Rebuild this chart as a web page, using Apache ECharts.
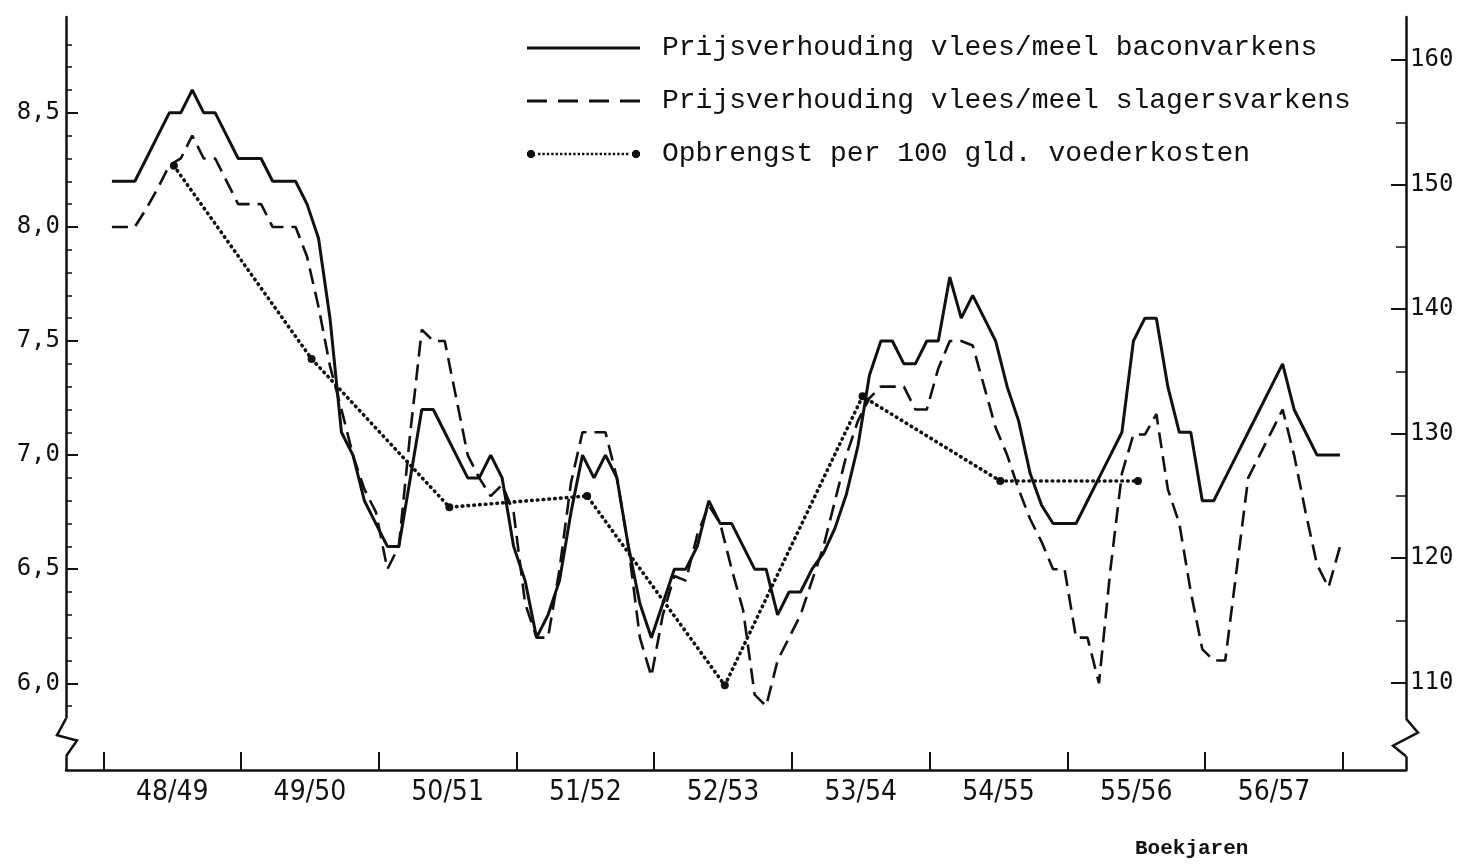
<!DOCTYPE html>
<html>
<head>
<meta charset="utf-8">
<script src="https://cdn.jsdelivr.net/npm/echarts@6.0.0/dist/echarts.min.js"></script>
<style>
  html, body { margin: 0; padding: 0; background: #fff; }
  #chart { width: 1467px; height: 866px; }
</style>
</head>
<body>
<div id="chart"></div>
<script>
// ---- data (monthly values, boekjaren 1948/49 .. 1956/57) ----
const yearLabels = ['48/49','49/50','50/51','51/52','52/53','53/54','54/55','55/56','56/57'];

const baconRatio = [
  8.2, 8.2, 8.2, 8.3, 8.4, 8.5, 8.5, 8.6, 8.5, 8.5, 8.4, 8.3,
  8.3, 8.3, 8.2, 8.2, 8.2, 8.1, 7.95, 7.6, 7.1, 7.0, 6.8, 6.7,
  6.6, 6.6, 6.9, 7.2, 7.2, 7.1, 7.0, 6.9, 6.9, 7.0, 6.9, 6.6,
  6.45, 6.2, 6.3, 6.45, 6.75, 7.0, 6.9, 7.0, 6.9, 6.6, 6.35, 6.2,
  6.35, 6.5, 6.5, 6.6, 6.8, 6.7, 6.7, 6.6, 6.5, 6.5, 6.3, 6.4,
  6.4, 6.5, 6.57, 6.68, 6.83, 7.04, 7.35, 7.5, 7.5, 7.4, 7.4, 7.5,
  7.5, 7.78, 7.6, 7.7, 7.6, 7.5, 7.3, 7.15, 6.92, 6.78, 6.7, 6.7,
  6.7, 6.8, 6.9, 7.0, 7.1, 7.5, 7.6, 7.6, 7.3, 7.1, 7.1, 6.8,
  6.8, 6.9, 7.0, 7.1, 7.2, 7.3, 7.4, 7.2, 7.1, 7.0, 7.0, 7.0
];

const slagerRatio = [
  8.0, 8.0, 8.0, 8.08, 8.17, 8.27, 8.3, 8.4, 8.3, 8.3, 8.2, 8.1,
  8.1, 8.1, 8.0, 8.0, 8.0, 7.87, 7.65, 7.39, 7.2, 7.0, 6.85, 6.75,
  6.5, 6.6, 7.1, 7.55, 7.5, 7.5, 7.25, 7.0, 6.9, 6.82, 6.87, 6.75,
  6.35, 6.2, 6.2, 6.5, 6.88, 7.1, 7.1, 7.1, 6.9, 6.6, 6.2, 6.03,
  6.3, 6.47, 6.45, 6.65, 6.78, 6.7, 6.5, 6.32, 5.95, 5.9, 6.1, 6.2,
  6.3, 6.45, 6.6, 6.8, 7.0, 7.15, 7.25, 7.3, 7.3, 7.3, 7.2, 7.2,
  7.38, 7.5, 7.5, 7.48, 7.3, 7.12, 7.0, 6.85, 6.72, 6.62, 6.5, 6.5,
  6.2, 6.2, 6.0, 6.5, 6.92, 7.09, 7.09, 7.18, 6.85, 6.7, 6.4, 6.15,
  6.1, 6.1, 6.5, 6.9, 7.0, 7.1, 7.2, 7.0, 6.75, 6.52, 6.42, 6.6
];

// Opbrengst per 100 gld. voederkosten, one value per boekjaar (48/49 .. 55/56)
const opbrengst = [151.5, 136, 124.1, 125, 109.8, 133, 126.2, 126.2];

const leftTicks  = [6.0, 6.5, 7.0, 7.5, 8.0, 8.5];
const rightTicks = [110, 120, 130, 140, 150, 160];

const seriesNames = [
  'Prijsverhouding vlees/meel baconvarkens',
  'Prijsverhouding vlees/meel slagersvarkens',
  'Opbrengst per 100 gld. voederkosten'
];

// ---- derived helpers ----
const MONTHS = 12;
const yearStart = k => k * MONTHS - 0.75;       // boundary of boekjaar k (in months)
const yearMid = k => k * MONTHS + 5.25;          // middle of boekjaar k
const baconData = baconRatio.map((v, i) => [i, v]);
const slagerData = slagerRatio.map((v, i) => [i, v]);
const opbrengstData = opbrengst.map((v, k) => [k * MONTHS + 5.4, v]);

const xTicks = [];
for (let k = 0; k <= yearLabels.length; k++) xTicks.push(yearStart(k));
const xLabelPos = yearLabels.map((_, k) => yearMid(k));

const leftMinor = [];
for (let v = 59; v <= 88; v++) { if (v % 5 !== 0) leftMinor.push(v / 10); }
const rightMinor = [115, 125, 135, 145, 155];

// legend icons (drawn as paths; legend keeps their aspect)
function rectPath(x, y, w, h) {
  return 'M' + x + ',' + y + ' L' + (x + w) + ',' + y + ' L' + (x + w) + ',' + (y + h) + ' L' + x + ',' + (y + h) + ' Z ';
}
function solidIcon(w) { return 'path://' + rectPath(0, 0, w, 3); }
function dashedIcon(w) {
  let p = '';
  const dash = 20, gap = 11;
  for (let x = 0; x < w; x += dash + gap) p += rectPath(x, 0, Math.min(dash, w - x), 3);
  return 'path://' + p;
}
function dottedIcon(w, h) {
  const r = h / 2;
  const oct = (cx) => {
    const a = r * 0.41;
    return 'M' + (cx - a) + ',0 L' + (cx + a) + ',0 L' + (cx + r) + ',' + (r - a) + ' L' + (cx + r) + ',' + (r + a) +
      ' L' + (cx + a) + ',' + h + ' L' + (cx - a) + ',' + h + ' L' + (cx - r) + ',' + (r + a) + ' L' + (cx - r) + ',' + (r - a) + ' Z ';
  };
  let p = oct(r) + oct(w - r);
  for (let x = 2 * r + 3; x < w - 2 * r - 3; x += 4.4) p += rectPath(+x.toFixed(1), r - 1.2, 2.4, 2.4);
  return 'path://' + p;
}

const BLACK = '#111';
const monoFont = '"Liberation Mono", "DejaVu Sans Mono", monospace';
const tickFont = '"DejaVu Sans Mono", "Liberation Mono", monospace';
const narrowFont = '"Liberation Sans Narrow", "DejaVu Sans Condensed", "Liberation Sans", sans-serif';

const chart = echarts.init(document.getElementById('chart'), null, { renderer: 'canvas' });

const yAxisBase = {
  type: 'value',
  splitLine: { show: false }
};

const option = {
  backgroundColor: '#fff',
  animation: false,
  title: {
    text: 'Boekjaren',
    left: 1135,
    top: 838,
    padding: 0,
    textStyle: { fontFamily: monoFont, fontSize: 21, fontWeight: 'bold', color: BLACK }
  },
  legend: {
    orient: 'vertical',
    left: 527,
    top: 33,
    itemWidth: 113,
    itemHeight: 8,
    itemGap: 23,
    symbolKeepAspect: true,
    selectedMode: false,
    padding: 0,
    textStyle: { fontFamily: monoFont, fontSize: 28, color: BLACK, lineHeight: 30, padding: [0, 0, 0, 17] },
    data: [
      { name: seriesNames[0], icon: solidIcon(113), itemStyle: { color: BLACK } },
      { name: seriesNames[1], icon: dashedIcon(113), itemStyle: { color: BLACK } },
      { name: seriesNames[2], icon: dottedIcon(113, 8), itemStyle: { color: BLACK } }
    ]
  },
  grid: { left: 66, right: 61, top: 17, bottom: 96, containLabel: false },
  xAxis: {
    type: 'value',
    min: -4,
    max: 112.75,
    axisLine: { show: true, onZero: false, lineStyle: { color: BLACK, width: 2.5 } },
    axisTick: { show: true, inside: true, length: 18, customValues: xTicks, lineStyle: { color: BLACK, width: 2 } },
    axisLabel: {
      show: true,
      customValues: xLabelPos,
      margin: 9,
      fontFamily: narrowFont,
      fontSize: 28,
      color: BLACK,
      formatter: v => yearLabels[Math.round((v - 5.25) / MONTHS)] || ''
    },
    splitLine: { show: false }
  },
  yAxis: [
    Object.assign({}, yAxisBase, {
      position: 'left', min: 5.62, max: 8.92,
      axisLine: { show: true, onZero: false, lineStyle: { color: BLACK, width: 2.5 } },
      axisTick: { show: true, inside: true, length: 12, customValues: leftTicks, lineStyle: { color: BLACK, width: 2 } },
      axisLabel: {
        show: true, customValues: leftTicks, margin: 6,
        fontFamily: tickFont, fontSize: 24, color: BLACK,
        formatter: v => v.toFixed(1).replace('.', ',')
      }
    }),
    Object.assign({}, yAxisBase, {
      position: 'right', min: 103, max: 163.45,
      axisLine: { show: true, onZero: false, lineStyle: { color: BLACK, width: 2.5 } },
      axisTick: { show: true, inside: true, length: 15, customValues: rightTicks, lineStyle: { color: BLACK, width: 2 } },
      axisLabel: {
        show: true, customValues: rightTicks, margin: 4,
        fontFamily: tickFont, fontSize: 24, color: BLACK,
        formatter: v => String(v)
      }
    }),
    Object.assign({}, yAxisBase, {
      position: 'left', min: 5.62, max: 8.92,
      axisLine: { show: false, onZero: false },
      axisTick: { show: true, inside: true, length: 6, customValues: leftMinor, lineStyle: { color: BLACK, width: 1.5 } },
      axisLabel: { show: false }
    }),
    Object.assign({}, yAxisBase, {
      position: 'right', min: 103, max: 163.45,
      axisLine: { show: false, onZero: false },
      axisTick: { show: true, inside: true, length: 10, customValues: rightMinor, lineStyle: { color: BLACK, width: 1.5 } },
      axisLabel: { show: false }
    })
  ],
  series: [
    {
      name: seriesNames[0], type: 'line', yAxisIndex: 0, data: baconData,
      showSymbol: false, symbol: 'none', smooth: false,
      lineStyle: { color: BLACK, width: 3 }, itemStyle: { color: BLACK }, z: 3
    },
    {
      name: seriesNames[1], type: 'line', yAxisIndex: 0, data: slagerData,
      showSymbol: false, symbol: 'none', smooth: false,
      lineStyle: { color: BLACK, width: 2.6, type: [16, 8] }, itemStyle: { color: BLACK }, z: 3
    },
    {
      name: seriesNames[2], type: 'line', yAxisIndex: 1, data: opbrengstData,
      symbol: 'circle', symbolSize: 8, showSymbol: true,
      lineStyle: { color: BLACK, width: 3.6, type: [0.6, 5.2], cap: 'round' },
      itemStyle: { color: BLACK }, z: 4
    }
  ]
};

chart.setOption(option);

// axis break marks (zigzags) on the two vertical axes
const yBreakTop = chart.convertToPixel({ yAxisIndex: 0 }, 5.845);
const yBreakBot = chart.convertToPixel({ yAxisIndex: 0 }, 5.68);
const xl = chart.convertToPixel({ xAxisIndex: 0 }, -4);
const xr = chart.convertToPixel({ xAxisIndex: 0 }, 112.75);
const h = yBreakBot - yBreakTop;
chart.setOption({
  graphic: [
    { type: 'rect', z: 100, shape: { x: xl - 6, y: yBreakTop, width: 12, height: h }, style: { fill: '#fff' } },
    { type: 'rect', z: 100, shape: { x: xr - 6, y: yBreakTop, width: 12, height: h }, style: { fill: '#fff' } },
    { type: 'polyline', z: 101, shape: { points: [[xl, yBreakTop], [xl - 9, yBreakTop + h * 0.44], [xl + 11, yBreakTop + h * 0.58], [xl, yBreakBot]] },
      style: { stroke: BLACK, lineWidth: 2.5, fill: null } },
    { type: 'polyline', z: 101, shape: { points: [[xr, yBreakTop], [xr + 12, yBreakTop + h * 0.37], [xr - 13, yBreakTop + h * 0.72], [xr, yBreakBot]] },
      style: { stroke: BLACK, lineWidth: 2.5, fill: null } }
  ]
});
</script>
</body>
</html>
